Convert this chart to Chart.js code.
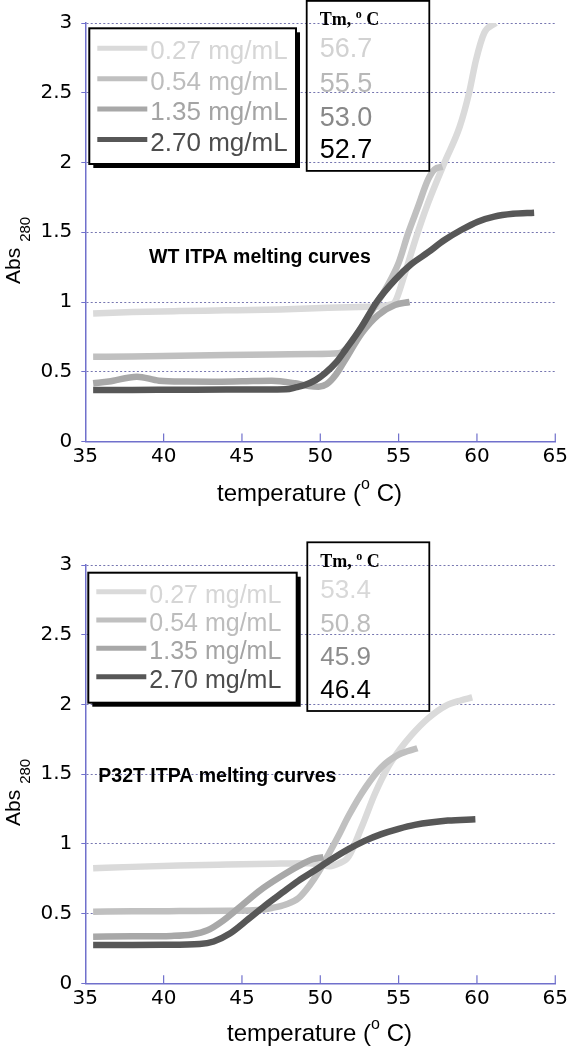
<!DOCTYPE html>
<html>
<head>
<meta charset="utf-8">
<title>ITPA melting curves</title>
<script src="https://cdn.jsdelivr.net/npm/chart.js@4.4.1/dist/chart.umd.min.js"></script>
<style>
  html, body { margin: 0; padding: 0; background: #ffffff; }
  canvas { display: block; }
</style>
</head>
<body>
<canvas id="wt" width="571" height="524"></canvas>
<canvas id="p32t" width="571" height="524"></canvas>
<script>
// ---------------- data ----------------
const concentrations = ['0.27 mg/mL', '0.54 mg/mL', '1.35 mg/mL', '2.70 mg/mL'];
const xTickValues = [35, 40, 45, 50, 55, 60, 65];
const yTickValues = [0, 0.5, 1, 1.5, 2, 2.5, 3];

const wtTitle = 'WT ITPA melting curves';
const p32tTitle = 'P32T ITPA melting curves';
const wtTm = ['56.7', '55.5', '53.0', '52.7'];
const p32tTm = ['53.4', '50.8', '45.9', '46.4'];

// [temperature (°C), Abs280]  -- WT ITPA
const wt027 = [[35.5,0.918],[38,0.928],[41,0.935],[44,0.94],[47.4,0.947],[50.5,0.958],[53.1,0.966],[54.0,0.97],[54.4,0.98],[54.76,1.0],[55.4,1.205],[56.13,1.468],[56.87,1.707],[57.93,2.0],[58.9,2.257],[59.5,2.5],[59.94,2.735],[60.47,2.93],[61.2,3.0]];
const wt054 = [[35.5,0.607],[38,0.61],[41,0.615],[44,0.62],[47,0.623],[49.5,0.627],[51.16,0.632],[51.7,0.67],[52.3,0.76],[52.9,0.87],[53.5,0.97],[54.2,1.1],[55.0,1.28],[55.6,1.49],[56.24,1.683],[56.87,1.875],[57.3,1.95],[57.8,1.97]];
const wt135 = [[35.5,0.417],[36.5,0.43],[38.3,0.465],[39.7,0.436],[41.5,0.43],[43.1,0.429],[45,0.432],[46.9,0.436],[48.4,0.417],[49.3,0.397],[49.9,0.393],[50.4,0.41],[51.0,0.48],[51.58,0.584],[52.64,0.776],[53.7,0.907],[54.76,0.978],[55.7,1.0]];
const wt270 = [[35.5,0.369],[38,0.37],[41,0.371],[44,0.372],[46.5,0.372],[47.8,0.374],[48.5,0.39],[49.0,0.405],[49.7,0.44],[50.3,0.489],[51.0,0.565],[51.6,0.656],[52.64,0.823],[53.6,1.0],[54.76,1.158],[55.8,1.27],[56.87,1.355],[57.93,1.444],[58.99,1.516],[60.05,1.576],[61.1,1.612],[62.3,1.632],[63.65,1.64]];

// [temperature (°C), Abs280]  -- P32T ITPA
const p32t027 = [[35.5,0.825],[38,0.835],[41,0.845],[44,0.852],[47,0.858],[49.3,0.861],[50.0,0.85],[50.6,0.84],[51.2,0.86],[51.8,0.908],[52.65,1.123],[53.5,1.363],[54.34,1.554],[55.1,1.68],[55.82,1.78],[56.88,1.9],[58,1.99],[59,2.03],[59.7,2.05]];
const p32t054 = [[35.5,0.514],[38,0.516],[41,0.518],[44.2,0.52],[46,0.525],[46.9,0.54],[47.8,0.565],[48.6,0.61],[49.3,0.7],[49.9,0.8],[50.5,0.92],[51.17,1.06],[51.8,1.2],[52.86,1.4],[53.9,1.55],[55.0,1.64],[56.2,1.686]];
const p32t135 = [[35.5,0.334],[38,0.337],[40.5,0.34],[41.8,0.35],[42.8,0.38],[43.8,0.45],[45,0.56],[46.2,0.67],[47.4,0.76],[48.6,0.84],[49.5,0.89],[50.2,0.905]];
const p32t270 = [[35.5,0.275],[38,0.275],[40,0.276],[42.3,0.282],[43.2,0.3],[44.2,0.355],[45.4,0.46],[46.5,0.56],[47.57,0.65],[48.6,0.735],[49.69,0.813],[50.7,0.888],[51.8,0.962],[52.8,1.02],[53.9,1.07],[55,1.108],[56.03,1.136],[58.14,1.167],[59.9,1.176]];

// ---------------- styles ----------------
const lineColors = ['#dadada', '#c0c0c0', '#a8a8a8', '#575757'];
const legendTextColors = ['#d6d6d6', '#bdbdbd', '#a4a4a4', '#4d4d4d'];
const AXIS = '#7070cc';
const GRID = '#7676b0';

function toXY(arr) { return arr.map(p => ({ x: p[0], y: p[1] })); }

function makeDatasets(series) {
  return series.map((s, i) => ({
    label: concentrations[i],
    data: toXY(s),
    borderColor: lineColors[i],
    backgroundColor: lineColors[i],
    borderWidth: 6.5,
    pointRadius: 0,
    fill: false,
    cubicInterpolationMode: 'monotone',
    borderCapStyle: 'butt',
    borderJoinStyle: 'round',
    order: 3 - i
  }));
}

function decorPlugin(L) {
  return {
    id: 'decor',
    afterDraw(chart) {
      const ctx = chart.ctx;
      const xs = chart.scales.x, ys = chart.scales.y;
      ctx.save();

      // inward tick marks on the x axis
      ctx.strokeStyle = AXIS;
      ctx.lineWidth = 1.2;
      xTickValues.slice(1).forEach(v => {
        const px = xs.getPixelForValue(v);
        ctx.beginPath();
        ctx.moveTo(px, ys.bottom);
        ctx.lineTo(px, ys.bottom - 8);
        ctx.stroke();
      });

      // legend box with shadow
      const b = L.legendBox;
      ctx.fillStyle = '#000';
      ctx.fillRect(b.x + 4, b.y + 4, b.w, b.h);
      ctx.fillStyle = '#fff';
      ctx.fillRect(b.x, b.y, b.w, b.h);
      ctx.lineWidth = 2;
      ctx.strokeStyle = '#000';
      ctx.strokeRect(b.x, b.y, b.w, b.h);
      chart.data.datasets.forEach((ds, i) => {
        const ly = L.legendRows[i];
        ctx.strokeStyle = ds.borderColor;
        ctx.lineWidth = 5;
        ctx.beginPath();
        ctx.moveTo(b.x + 8, ly);
        ctx.lineTo(b.x + 58, ly);
        ctx.stroke();
        ctx.fillStyle = legendTextColors[i];
        ctx.font = L.legendFont + 'px "Liberation Sans", Arial, sans-serif';
        ctx.textBaseline = 'alphabetic';
        ctx.textAlign = 'left';
        ctx.fillText(ds.label, b.x + 61, ly + 11);
      });

      // Tm box (transparent)
      const t = L.tmBox;
      ctx.lineWidth = 1.8;
      ctx.strokeStyle = '#000';
      ctx.strokeRect(t.x, t.y, t.w, t.h);
      ctx.fillStyle = '#000';
      ctx.textBaseline = 'alphabetic';
      ctx.font = 'bold 18px "Liberation Serif", "Times New Roman", serif';
      let hx = t.x + 13;
      ctx.fillText('Tm, ', hx, L.tmHeaderBase);
      hx += ctx.measureText('Tm, ').width;
      ctx.font = 'bold 12px "Liberation Serif", "Times New Roman", serif';
      ctx.fillText('o', hx, L.tmHeaderBase - 7);
      hx += ctx.measureText('o').width;
      ctx.font = 'bold 18px "Liberation Serif", "Times New Roman", serif';
      ctx.fillText(' C', hx, L.tmHeaderBase);
      ctx.font = L.tmFont + 'px "Liberation Sans", Arial, sans-serif';
      L.tmValues.forEach((v, i) => {
        ctx.fillStyle = L.tmColors[i];
        ctx.fillText(v, t.x + 13, L.tmBases[i]);
      });

      // in-plot title
      ctx.fillStyle = '#000';
      ctx.font = 'bold 19.5px "Liberation Sans", Arial, sans-serif';
      ctx.fillText(L.title, L.titleX, L.titleBase);

      // x axis title with superscript
      ctx.font = '24px "Liberation Sans", Arial, sans-serif';
      let tx = L.xTitleX;
      ctx.fillText('temperature (', tx, L.xTitleBase);
      tx += ctx.measureText('temperature (').width;
      ctx.font = '16px "Liberation Sans", Arial, sans-serif';
      ctx.fillText('o', tx, L.xTitleBase - 12);
      tx += ctx.measureText('o').width;
      ctx.font = '24px "Liberation Sans", Arial, sans-serif';
      ctx.fillText(' C)', tx, L.xTitleBase);

      // y axis title with subscript (rotated)
      ctx.save();
      ctx.translate(L.yTitleBaseX, L.yTitleStartY);
      ctx.rotate(-Math.PI / 2);
      ctx.font = '21px "Liberation Sans", Arial, sans-serif';
      ctx.fillText('Abs', 0, 0);
      const aw = ctx.measureText('Abs').width;
      ctx.font = '15px "Liberation Sans", Arial, sans-serif';
      ctx.fillText('280', aw + 6, 10);
      ctx.restore();

      ctx.restore();
    }
  };
}

function buildChart(canvasId, series, L) {
  return new Chart(document.getElementById(canvasId), {
    type: 'line',
    data: { datasets: makeDatasets(series) },
    options: {
      responsive: false,
      animation: false,
      devicePixelRatio: 1,
      layout: { padding: { top: L.padTop, right: 13, bottom: 0, left: 0 } },
      plugins: { legend: { display: false }, tooltip: { enabled: false }, title: { display: false } },
      scales: {
        x: {
          type: 'linear', min: 35, max: 65,
          afterBuildTicks: s => { s.ticks = xTickValues.map(v => ({ value: v })); },
          afterFit: s => { s.height = L.xAxisHeight; },
          grid: { display: false, drawTicks: false },
          border: { display: true, color: AXIS, width: 1.5 },
          ticks: { color: '#000', font: { family: 'DejaVu Sans', size: 20 }, padding: 3, maxRotation: 0, autoSkip: false, callback: v => String(v) }
        },
        y: {
          type: 'linear', min: 0, max: 3,
          afterBuildTicks: s => { s.ticks = yTickValues.map(v => ({ value: v })); },
          afterFit: s => { s.width = 85.3; },
          grid: { color: GRID, lineWidth: 1, drawTicks: true, tickLength: 4, tickColor: AXIS, tickWidth: 1, tickBorderDash: [] },
          border: { display: true, color: AXIS, width: 1.5, dash: [2, 2.2] },
          ticks: { color: '#000', font: { family: 'DejaVu Sans', size: 20 }, padding: 9, callback: v => String(v) }
        }
      }
    },
    plugins: [decorPlugin(L)]
  });
}

buildChart('wt', [wt027, wt054, wt135, wt270], {
  padTop: 23, xAxisHeight: 82.5,
  legendBox: { x: 89.3, y: 28.3, w: 206.7, h: 135.7 },
  legendRows: [48.3, 78.8, 109, 139.5], legendFont: 26,
  tmBox: { x: 306.7, y: 0.9, w: 122.6, h: 170 },
  tmHeaderBase: 25, tmFont: 27,
  tmValues: wtTm, tmColors: ['#d2d2d2', '#b8b8b8', '#888888', '#000000'],
  tmBases: [57.3, 91.7, 126, 158.3],
  title: wtTitle, titleX: 149, titleBase: 263,
  xTitleX: 217, xTitleBase: 501,
  yTitleBaseX: 20, yTitleStartY: 284
});

buildChart('p32t', [p32t027, p32t054, p32t135, p32t270], {
  padTop: 41, xAxisHeight: 64.7,
  legendBox: { x: 88.3, y: 48.7, w: 208.4, h: 130 },
  legendRows: [67.7, 96, 124.3, 152.7], legendFont: 25,
  tmBox: { x: 307.3, y: 18.3, w: 122, h: 168.7 },
  tmHeaderBase: 42.7, tmFont: 26,
  tmValues: p32tTm, tmColors: ['#d8d8d8', '#bdbdbd', '#8c8c8c', '#000000'],
  tmBases: [74.3, 107.7, 141, 174.3],
  title: p32tTitle, titleX: 98.3, titleBase: 257.7,
  xTitleX: 227, xTitleBase: 517,
  yTitleBaseX: 20, yTitleStartY: 302
});
</script>
</body>
</html>
